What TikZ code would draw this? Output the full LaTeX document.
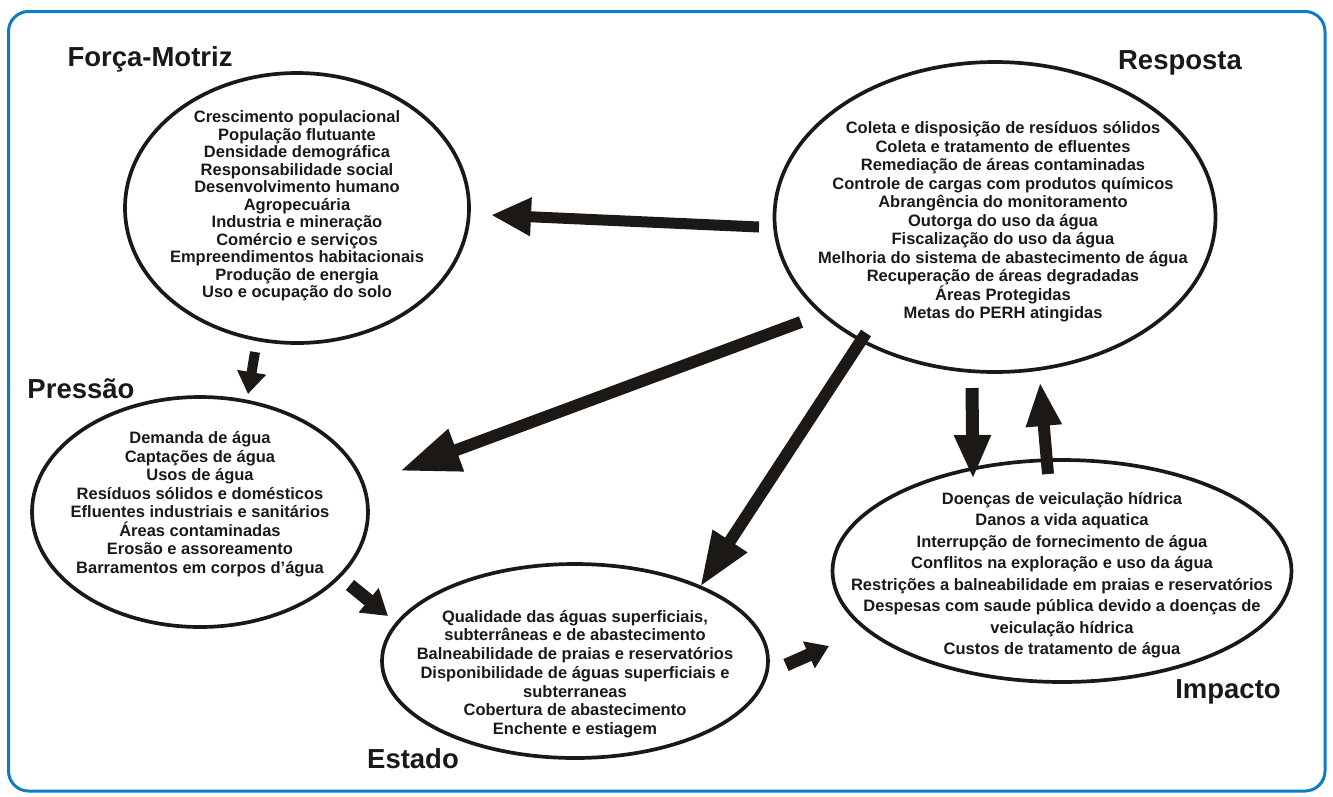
\documentclass[tikz,border=0pt]{standalone}
\usepackage{fontspec}
\setmainfont{Liberation Sans}
\usetikzlibrary{shapes.geometric,arrows.meta}
\definecolor{frameblue}{RGB}{14,124,196}
\definecolor{ink}{RGB}{28,24,22}
\begin{document}
\begin{tikzpicture}[x=1pt,y=-1pt,
  ell/.style={ellipse, draw=ink, line width=3.7pt, inner sep=0pt},
  txt/.style={align=center, font=\fontsize{16.5}{#1}\selectfont\bfseries, text=ink, inner sep=0pt},
  txt/.default=18.5,
  lbl/.style={anchor=base, font=\fontsize{27.5}{30}\selectfont\bfseries, text=ink, inner sep=0pt},
  blk/.style={draw=ink, line width=#1},
]
\useasboundingbox (0,0) rectangle (1333,796);
\draw[frameblue, line width=3pt, rounded corners=20pt] (8.5,11.5) rectangle (1325,791);

% ellipses
\node[ell, minimum width=344pt, minimum height=270pt] (FM) at (297,208) {};
\node[ell, minimum width=441pt, minimum height=310pt] (R) at (995,217) {};
\node[ell, minimum width=336pt, minimum height=230pt] (P) at (200,512) {};
\node[ell, minimum width=386pt, minimum height=194pt] (E) at (575,661) {};
\node[ell, minimum width=459pt, minimum height=222pt] (I) at (1062,571) {};

% texts
\node[txt=17.5] (FMt) at (297,206) {Crescimento populacional\\População flutuante\\Densidade demográfica\\Responsabilidade social\\Desenvolvimento humano\\Agropecuária\\Industria e mineração\\Comércio e serviços\\Empreendimentos habitacionais\\Produção de energia\\Uso e ocupação do solo};
\node[txt] (Rt) at (1003,222) {Coleta e disposição de resíduos sólidos\\Coleta e tratamento de efluentes\\Remediação de áreas contaminadas\\Controle de cargas com produtos químicos\\Abrangência do monitoramento\\Outorga do uso da água\\Fiscalização do uso da água\\Melhoria do sistema de abastecimento de água\\Recuperação de áreas degradadas\\Áreas Protegidas\\Metas do PERH atingidas};
\node[txt] (Pt) at (200,504) {Demanda de água\\Captações de água\\Usos de água\\Resíduos sólidos e domésticos\\Efluentes industriais e sanitários\\Áreas contaminadas\\Erosão e assoreamento\\Barramentos em corpos d’água};
\node[txt=18.7] (Et) at (575,674) {Qualidade das águas superficiais,\\subterrâneas e de abastecimento\\Balneabilidade de praias e reservatórios\\Disponibilidade de águas superficiais e\\subterraneas\\Cobertura de abastecimento\\Enchente e estiagem};
\node[txt=21.5] (It) at (1062,575) {Doenças de veiculação hídrica\\Danos a vida aquatica\\Interrupção de fornecimento de água\\Conflitos na exploração e uso da água\\Restrições a balneabilidade em praias e reservatórios\\Despesas com saude pública devido a doenças de\\veiculação hídrica\\Custos de tratamento de água};

% labels
\node[lbl] (FMl) at (150,66) {Força-Motriz};
\node[lbl] (Rl) at (1180,69) {Resposta};
\node[lbl] (Pl) at (81,398) {Pressão};
\node[lbl] (El) at (413,768) {Estado};
\node[lbl] (Il) at (1228,698) {Impacto};

% arrow end points
\coordinate (a1s) at (759,227); \coordinate (a1e) at (491,215);
\coordinate (a2s) at (801,322); \coordinate (a2e) at (400,471);
\coordinate (a3s) at (866,333); \coordinate (a3e) at (700,587);
\coordinate (a4s) at (255,352); \coordinate (a4e) at (248,394);
\coordinate (a5s) at (350,585); \coordinate (a5e) at (388,616);
\coordinate (a6s) at (786,665); \coordinate (a6e) at (829,646);
\coordinate (a7s) at (972,388); \coordinate (a7e) at (973,479);
\coordinate (a8s) at (1048,474); \coordinate (a8e) at (1040,382);

\draw[blk=11pt, -{Triangle[length=40pt,width=36pt]}] (a1s) -- (a1e);
\draw[blk=12pt, -{Triangle[length=60pt,width=42pt]}] (a2s) -- (a2e);
\draw[blk=12pt, -{Triangle[length=55pt,width=38pt]}] (a3s) -- (a3e);
\draw[blk=10pt, -{Triangle[length=22pt,width=28pt]}] (a4s) -- (a4e);
\draw[blk=13pt, -{Triangle[length=25pt,width=30pt]}] (a5s) -- (a5e);
\draw[blk=13pt, -{Triangle[length=22pt,width=28pt]}] (a6s) -- (a6e);
\draw[blk=13pt, -{Triangle[length=44pt,width=34pt]}] (a7s) -- (a7e);
\draw[blk=12pt, -{Triangle[length=44pt,width=33pt]}] (a8s) -- (a8e);
\end{tikzpicture}
\end{document}
